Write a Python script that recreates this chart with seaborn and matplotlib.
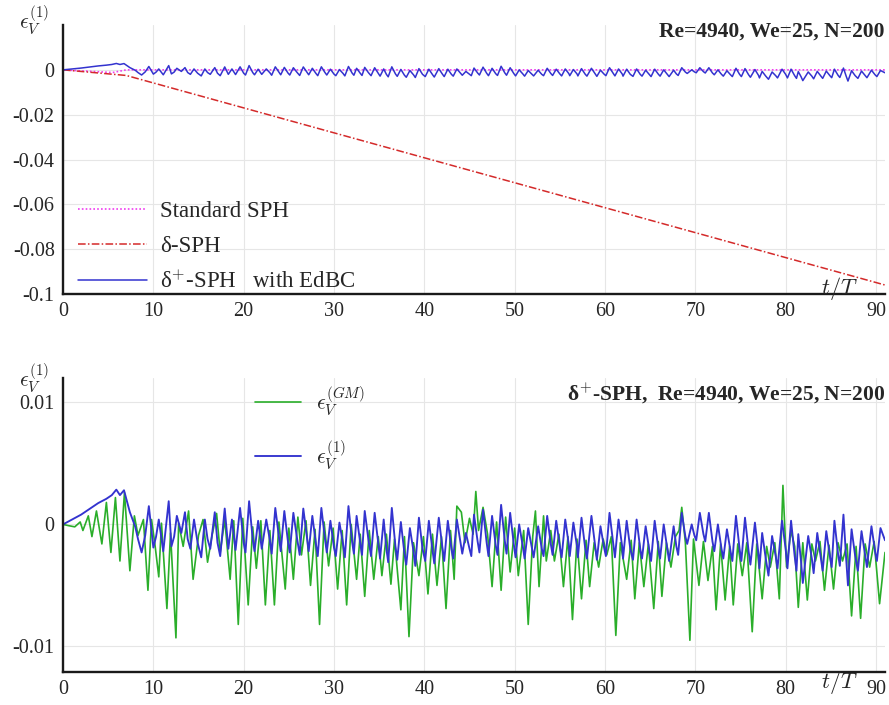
import matplotlib
matplotlib.use("Agg")
import numpy as np
import pandas as pd
import matplotlib.pyplot as plt
import seaborn as sns
from matplotlib.ticker import MultipleLocator, FuncFormatter

# ---------------- data ----------------
x_ticks = [0, 10, 20, 30, 40, 50, 60, 70, 80, 90]
top_y_ticks = [0, -0.02, -0.04, -0.06, -0.08, -0.1]
bot_y_ticks = [0.01, 0, -0.01]

std_t = [0.0, 5.5, 7.0, 91.0]
std_v = [0.0, -0.0012, 0.0, 0.0]

dsph_t = [0.0, 7.0, 91.0]
dsph_v = [0.0, -0.0025, -0.096]

# epsilon_V^(1) of delta+-SPH (values in units of 1e-3)
blue_t = [0, 2.0, 3.9, 4.8, 5.4, 5.9, 6.3, 6.75, 7.4, 8.0, 8.3, 8.7, 9.1, 9.5, 10.0, 10.3, 10.6, 11.1, 11.7, 12.0,
          12.3, 12.6, 13.1, 13.5, 13.8, 14.1, 14.5, 14.9, 15.3, 15.7, 16.0, 16.3, 16.8, 17.1, 17.4, 17.9, 18.3,
          18.7, 19.1, 19.6, 20.0, 20.2, 20.6, 21.0, 21.2, 21.6, 22.0, 22.5, 22.9, 23.1, 23.5, 23.9, 24.1, 24.5,
          24.9, 25.1, 25.5, 25.9, 26.2, 26.6, 27.0, 27.2, 27.6, 28.0, 28.2, 28.6, 29.0, 29.2, 29.6, 30.0, 30.2,
          30.6, 31.0, 31.2, 31.6, 32.0, 32.2, 32.5, 32.9, 33.1, 33.4, 33.8, 34.1, 34.5, 34.9, 35.1, 35.5, 35.8,
          36.0, 36.4, 36.8, 37.0,
          37.4, 37.8, 38.0, 38.4, 38.8, 39.0, 39.4, 39.8, 40.1, 40.5, 40.9, 41.1, 41.6, 42.0, 42.2, 42.6, 43.0,
          43.2, 43.6, 44.0, 44.2, 44.6, 45.0, 45.2, 45.5, 45.9, 46.1, 46.5, 46.9, 47.1, 47.5, 47.9, 48.1, 48.5,
          48.9, 49.1, 49.5, 49.9, 50.1, 50.5, 50.9, 51.1, 51.5, 51.9, 52.1, 52.6, 53.0, 53.2, 53.6, 54.0, 54.2,
          54.6, 55.0, 55.2, 55.6, 56.0, 56.1,
          56.5, 56.9, 57.0, 57.4, 57.8, 58.0, 58.5, 58.9, 59.1, 59.5, 59.9, 60.1, 60.5, 60.9, 61.1, 61.5, 61.9,
          62.0, 62.4, 62.8, 63.1, 63.5, 63.9, 64.1, 64.5, 64.9, 65.1, 65.5, 65.9, 66.1, 66.5, 66.9, 67.1, 67.6,
          67.9, 68.1, 68.5, 68.9, 69.1, 69.6, 69.9, 70.1, 70.5, 70.9, 71.1, 71.5, 71.9, 72.1, 72.5, 72.9, 73.1,
          73.5, 73.9, 74.1, 74.5, 74.9, 75.1,
          75.5, 75.9, 76.1, 76.6, 77.0, 77.1, 77.4, 77.8, 78.1, 78.5, 78.9, 79.1, 79.6, 80.0, 80.2, 80.6, 81.0,
          81.2, 81.4, 81.7, 81.9, 82.5, 82.9, 83.1, 83.5, 83.9, 84.1, 84.5, 84.9, 85.1, 85.4, 85.8, 86.0, 86.4,
          86.7, 86.9, 87.3, 87.7, 88.0, 88.4, 88.8, 89.0, 89.5, 89.9, 90.1, 90.5, 91.0]
blue_m = [0, 0.8, 1.75, 2.1, 2.4, 2.85, 2.4, 2.8, 1.0, -0.2, -1.2, -2.3, -0.9, 1.5, -1.9, -1.0, 0.4, -2.2, 1.9, -1.8,
          -1.0, 0.7, -0.7, 1.0, -1.2, -2.0, 0.4, -1.5, -2.7, 0.4, -1.2, -2.0, 1.0, -1.5, -2.6, 1.3, -2.0,
          0.4, -2.1, 1.35, -1.5, -2.3, 1.9, -1.2, -2.2, 0.3, -2.0, 0.4, -1.3, -2.4, 1.35, -1.0, -2.2, 1.1,
          -1.4, -2.3, 0.95, -1.1, -2.5, 1.3, -1.0, -2.2, 0.7, -1.6, -2.6, 1.35, -1.2, -2.3, 0.3, -1.9, -2.6,
          0.15, -1.6, -2.7, 1.5, -1.4, -2.4, 0.7, -1.5, -2.5, 1.1, -1.2, -2.6, 0.95, -1.6, -2.8, 0.4, -2.0,
          -3.1, 1.35, -1.8, -2.9,
          0.2, -2.4, -3.3, -0.3, -2.2, -3.4, 0.55, -2.0, -3.0, 0.3, -2.1, -3.2, 0.55, -1.9, -3.0, 0.3, -2.0,
          -2.8, 0.4, -1.5, -2.4, -0.7, -2.0, -2.6, 0.8, -1.4, -2.3, 1.2, -1.5, -2.6, 0.7, -1.7, -2.5, 1.6,
          -1.3, -2.4, 0.95, -1.6, -2.7, 0.0, -1.8, -2.8, -0.3, -1.9, -2.7, -0.15, -2.0, -2.6, 0.7, -1.6, -2.5,
          0.3, -1.8, -2.7, 0.4, -1.7, -2.6,
          0.15, -1.8, -2.7, 0.55, -1.9, -2.8, 0.7, -1.7, -2.9, -0.15, -1.9, -2.6, 0.95, -1.5, -2.7, 0.4, -1.8,
          -2.8, 0.3, -2.0, -2.9, 0.4, -2.0, -2.8, -0.15, -2.1, -3.0, 0.3, -1.9, -2.8, 0.0, -2.0, -3.0, -0.15,
          -1.8, -2.5, 0.95, -1.0, -1.6, 0.0, -0.9, -1.3, 0.95, -0.8, -1.4, 0.95, -1.4, -2.2, 0.0, -2.0, -2.8,
          -0.4, -2.2, -3.0, 0.7, -2.0, -3.0,
          0.55, -2.2, -3.3, 0.15, -2.5, -3.6, -0.7, -2.8, -4.2, -0.95, -2.6, -3.6, 0.3, -2.0, -3.6, 0.3, -2.6,
          -3.8, -0.8, -3.0, -4.8, -0.95, -2.8, -4.0, -0.7, -2.8, -3.8, -0.55, -2.6, -3.5, 0.3, -2.4, -3.4, 0.8,
          -2.8, -5.0, -0.4, -2.6, -3.8, -0.55, -2.5, -3.5, -0.15, -2.2, -3.0, -0.3, -1.3]

# epsilon_V^(GM) (values in units of 1e-3)
green_t = [0, 0.6, 1.3, 1.9, 2.2, 2.8, 3.2, 3.7, 4.3, 4.8, 5.3, 5.8, 6.3, 6.8, 7.4, 7.9, 8.3, 8.9, 9.4, 9.8,
           10.2, 10.6, 10.9, 11.5, 11.9, 12.5, 12.8, 13.3, 13.9, 14.4, 15.0, 15.5, 16.0, 16.5, 17.0, 17.4,
           17.9, 18.5,
           18.9, 19.4, 19.9, 20.5, 21.0, 21.4, 21.9, 22.4, 22.9, 23.4, 23.9, 24.6, 25.0, 25.5, 26.0, 26.4,
           26.9, 27.4, 27.9, 28.4, 28.9, 29.4, 29.9, 30.4, 30.9, 31.4, 31.9, 32.5, 32.9, 33.4, 33.9, 34.4,
           34.9, 35.3, 35.8, 36.3, 36.7,
           37.4, 37.8, 38.3, 38.8, 39.4, 39.9, 40.4, 40.9, 41.4, 41.9, 42.4, 42.9, 43.3, 43.6, 44.1, 44.5,
           45.0, 45.4, 45.7, 46.0, 46.5, 47.0, 47.5, 48.0, 48.5, 49.0, 49.5, 50.0, 50.4, 51.0, 51.5, 52.0,
           52.3, 52.7, 53.2, 53.5, 54.0, 54.4, 54.9, 55.4, 55.9,
           56.4, 56.9, 57.4, 57.9, 58.3, 58.8, 59.3, 59.8, 60.2, 60.7, 61.2, 61.7, 62.4, 62.9, 63.3, 63.8,
           64.3, 64.8, 65.4, 65.9, 66.3, 66.8, 67.3, 67.8, 68.2, 68.5, 68.9, 69.4, 69.8, 70.4, 70.9, 71.4,
           71.9, 72.3, 72.8, 73.3, 73.8, 74.2, 74.7,
           75.2, 75.7, 76.3, 76.8, 77.4, 77.9, 78.3, 78.8, 79.3, 79.7, 80.1, 80.6, 81.0, 81.4, 81.9, 82.4,
           82.9, 83.3, 83.8, 84.3, 84.8, 85.3, 85.8, 86.3, 86.8, 87.3, 87.8, 88.3, 88.8, 89.3, 89.8, 90.4,
           91.0]
green_m = [0, -0.1, -0.2, 0.2, -0.5, 0.7, -1.0, 1.1, -1.6, 1.8, -2.3, 2.2, -3.0, 2.6, -3.8, 0.7, -0.9, 0.4, -5.4, 0.4,
           -1.8, -4.3, 0.1, -6.9, -0.7, -9.3, 0.1, -1.8, 1.1, -4.5, -0.9, 0.4, -3.1, -0.9, 0.9, -2.3,
           0.4, -4.5,
           0.3, -8.2, 0.5, -6.6, -0.2, -3.6, 0.3, -6.6, -0.5, -6.6, 0.2, -5.3, -0.3, -4.5, 0.6, -2.5,
           0.3, -5.0, -0.4, -8.2, 0.2, -3.4, -0.3, -5.3, -0.5, -6.6, 0.0, -4.5, -0.8, -5.9, -0.5, -4.5,
           -1.0, -4.2, -0.8, -4.9, -1.2,
           -7.0, -1.0, -9.2, -1.5, -4.2, -1.0, -5.7, -0.8, -5.0, -1.0, -6.9, -0.5, -4.5, 1.5, 1.0, -1.5,
           0.5, -0.8, 2.7, -0.5, 1.4, -0.8, -5.1, 0.2, -5.4, 0.6, -3.9, -0.3, -4.2, -0.5, -8.2, -1.0,
           1.1, -5.1, 0.7, -3.0, -0.5, -3.0, -0.8, -5.1, -1.0,
           -7.8, -1.2, -6.1, -1.3, -5.1, -1.5, -3.5, -1.2, -2.5, -1.0, -9.1, -1.5, -4.5, -1.3, -6.1, -1.5,
           -5.1, -1.6, -6.9, -1.4, -5.9, -1.5, -3.5, -1.0, -0.5, 1.4, -1.5, -9.5, -1.2, -5.0, -1.4, -4.6,
           -1.8, -7.0, -1.6, -6.2, -1.8, -6.6, -1.6,
           -4.2, -1.5, -8.8, -1.6, -6.1, -1.8, -3.5, -1.5, -6.1, 3.2, -3.5, -0.5, -1.8, -6.8, -1.5, -6.2,
           -1.6, -3.0, -1.4, -5.4, -1.7, -5.3, -1.5, -3.0, -1.6, -7.5, -1.8, -7.7, -1.6, -3.5, -1.4, -6.5,
           -2.3]

# ---------------- style ----------------
sns.set_theme(style="white")
plt.rcParams["font.family"] = ["Liberation Serif", "DejaVu Serif"]
plt.rcParams["mathtext.fontset"] = "cm"
plt.rcParams["axes.unicode_minus"] = False

BLUE = "#3333cf"
GREEN = "#2aae2a"
RED = "#d42a2a"
MAGENTA = "#f03cf0"

df_std = pd.DataFrame({"t": std_t, "v": std_v})
df_dsph = pd.DataFrame({"t": dsph_t, "v": dsph_v})
df_blue = pd.DataFrame({"t": blue_t, "v": np.array(blue_m) * 1e-3})
df_green = pd.DataFrame({"t": green_t, "v": np.array(green_m) * 1e-3})

fig = plt.figure(figsize=(8.89, 7.05), dpi=100)
ax1 = fig.add_axes([0.0709, 0.583, 0.9246, 0.3815])
ax2 = fig.add_axes([0.0709, 0.0468, 0.9246, 0.417])

def fmt(v, pos):
    if abs(v) < 1e-12:
        return "0"
    return ("%g" % v)

for ax in (ax1, ax2):
    ax.grid(True, which="major", color="#e6e6e6", lw=0.8)
    ax.set_axisbelow(True)
    for s in ("top", "right"):
        ax.spines[s].set_visible(False)
    for s in ("left", "bottom"):
        ax.spines[s].set_color("#1a1a1a")
        ax.spines[s].set_linewidth(1.7)
    ax.set_xlim(0, 91)
    ax.set_xticks(x_ticks)
    ax.xaxis.set_minor_locator(MultipleLocator(2))
    ax.tick_params(which="major", direction="in", length=6, width=1.2, labelsize=14.5,
                   color="#1a1a1a", pad=6)
    ax.tick_params(which="minor", direction="in", length=3, width=0.9, color="#444444")
    ax.yaxis.set_major_formatter(FuncFormatter(fmt))

# top panel
sns.lineplot(data=df_std, x="t", y="v", ax=ax1, color=MAGENTA, lw=1.2, linestyle=(0, (1, 1.3)),
             label="Standard SPH", estimator=None, sort=False)
sns.lineplot(data=df_dsph, x="t", y="v", ax=ax1, color=RED, lw=1.1, linestyle=(0, (5, 1.5, 1, 1.5)),
             label="δ-SPH", estimator=None, sort=False)
sns.lineplot(data=df_blue, x="t", y="v", ax=ax1, color=BLUE, lw=1.1,
             label="δ$^{+}$-SPH   with EdBC", estimator=None, sort=False)
ax1.set_ylim(-0.1, 0.02)
ax1.set_yticks(top_y_ticks)
ax1.yaxis.set_minor_locator(MultipleLocator(0.005))
ax1.set_xlabel("")
ax1.set_ylabel("")
ax1.legend(loc="upper left", bbox_to_anchor=(0.018, 0.345), frameon=False, fontsize=16.5,
           handlelength=3.0, handletextpad=0.6, labelspacing=0.6, borderpad=0, borderaxespad=0)
ax1.text(1.0, 0.975, "Re=4940, We=25, N=200", transform=ax1.transAxes, ha="right", va="center",
         fontsize=15.5, fontweight="bold")
ax1.text(-0.035, 1.02, r"$\epsilon_V^{(1)}$", transform=ax1.transAxes, ha="center", va="center",
         fontsize=15.5)
ax1.text(0.945, 0.02, r"$t/T$", transform=ax1.transAxes, ha="center", va="center", fontsize=16)

# bottom panel
sns.lineplot(data=df_green, x="t", y="v", ax=ax2, color=GREEN, lw=1.2,
             label=r"$\epsilon_V^{(GM)}$", estimator=None, sort=False)
sns.lineplot(data=df_blue, x="t", y="v", ax=ax2, color=BLUE, lw=1.35,
             label=r"$\epsilon_V^{(1)}$", estimator=None, sort=False)
ax2.set_ylim(-0.0121, 0.012)
ax2.set_yticks(bot_y_ticks)
ax2.yaxis.set_minor_locator(MultipleLocator(0.002))
ax2.set_xlabel("")
ax2.set_ylabel("")
ax2.legend(loc="upper left", bbox_to_anchor=(0.234, 0.98), frameon=False, fontsize=15.5,
           handlelength=2.1, handletextpad=0.7, labelspacing=1.0, borderpad=0, borderaxespad=0)
ax2.text(1.0, 0.952, "δ$^{+}$-SPH,  Re=4940, We=25, N=200", transform=ax2.transAxes, ha="right",
         va="center", fontsize=15.5, fontweight="bold")
ax2.text(-0.035, 1.0, r"$\epsilon_V^{(1)}$", transform=ax2.transAxes, ha="center", va="center",
         fontsize=15.5)
ax2.text(0.945, -0.035, r"$t/T$", transform=ax2.transAxes, ha="center", va="center", fontsize=16)

fig.savefig("out.png", dpi=100)
